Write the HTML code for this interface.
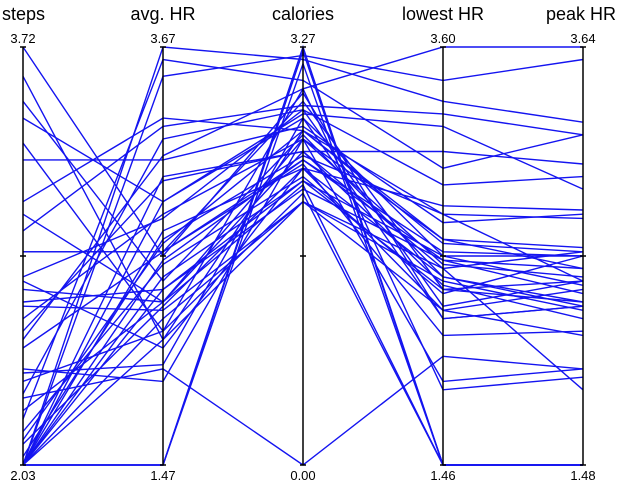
<!DOCTYPE html>
<html><head><meta charset="utf-8"><style>
html,body{margin:0;padding:0;background:#fff;}
svg{display:block;font-family:"Liberation Sans",sans-serif;}
</style></head><body>
<svg id="chart" width="618" height="482" viewBox="0 0 618 482"></svg>
<script>
// Data: each value as percent of its axis range (0 = axis min, 100 = axis max)
const axisNames = ["steps","avg. HR","calories","lowest HR","peak HR"];
const axisMin = ["2.03","1.47","0.00","1.46","1.48"];
const axisMax = ["3.72","3.67","3.27","3.60","3.64"];
const steps    = [100,93,83,77,63,60,51,51,45,44,42,39,38,32,23,22,16,17,11,0,0,0,0,0,0,0,0,0,6,8,0,0,0,13,20,28,35,56,73,87,30,2,5,0];
const avgHR    = [50,30,63,32,83,39,51,51,59,28,39,42,37,68,20,24,23,78,97,100,93,69,63,56,49,45,42,35,53,48,0,0,0,39,32,51,60,81,73,44,74,54,38,30];
const calories = [89,80,83,90,80,75,73,87,85,71,78,68,63,75,78,83,0,85,92,97,98,75,84,71,73,68,66,63,80,69,100,99,96,67,65,72,78,86,81,79,90,74,71,63];
const lowestHR = [35,54,50,18,60,47,49,42,38,45,48,42,37,43,20,35,26,67,71,87,92,75,81,62,51,50,49,44,53,41,0,0,0,0,0,31,54,84,58,45,100,60,37,47];
const peakHR   = [38,47,50,21,59,51,47,44,44,38,45,39,42,35,23,38,23,69,79,82,97,72,66,61,50,43,41,37,51,50,0,0,0,0,0,32,52,79,60,39,100,44,31,18];

const series = [steps, avgHR, calories, lowestHR, peakHR];
const NS = "http://www.w3.org/2000/svg";
const svg = document.getElementById("chart");
const X0 = 23, DX = 140, YTOP = 47, YBOT = 465;
const xAxis = i => X0 + i * DX;
const yScale = p => YBOT - (p / 100) * (YBOT - YTOP);

function mk(tag, attrs){ const e=document.createElementNS(NS,tag); for(const k in attrs) e.setAttribute(k,attrs[k]); return e; }

// lines
const gLines = mk("g", {});


svg.appendChild(gLines);
for (let r = 0; r < steps.length; r++) {
  const pts = series.map((s, i) => xAxis(i) + "," + yScale(s[r]).toFixed(1)).join(" ");
  const pl = mk("polyline", {points: pts, fill: "none", stroke: "#1414f0", "stroke-width": "1.4"});
  
  
  gLines.appendChild(pl);
}

// axes
axisNames.forEach((name, i) => {
  const x = xAxis(i);
  const g = mk("g", {});
  
  
  g.appendChild(mk("line", {x1: x, y1: YTOP, x2: x, y2: YBOT, stroke: "#000", "stroke-width": "1.5"}));
  [YTOP, (YTOP + YBOT) / 2, YBOT].forEach(y => g.appendChild(mk("line", {x1: x - 3, y1: y, x2: x + 3, y2: y, stroke: "#000", "stroke-width": "1.5"})));
  const t = mk("text", {x: i === 0 ? 2 : (i === 4 ? 616 : x), y: 20, "font-size": "18", "text-anchor": i === 0 ? "start" : (i === 4 ? "end" : "middle"), fill: "#000"});
  t.textContent = name;
  
  
  g.appendChild(t);
  const tMax = mk("text", {x: x, y: 43, "font-size": "13", "text-anchor": "middle", fill: "#000"});
  tMax.textContent = axisMax[i];
  
  
  g.appendChild(tMax);
  const tMin = mk("text", {x: x, y: 480, "font-size": "13", "text-anchor": "middle", fill: "#000"});
  tMin.textContent = axisMin[i];
  
  
  g.appendChild(tMin);
  svg.appendChild(g);
});
</script>
</body></html>
